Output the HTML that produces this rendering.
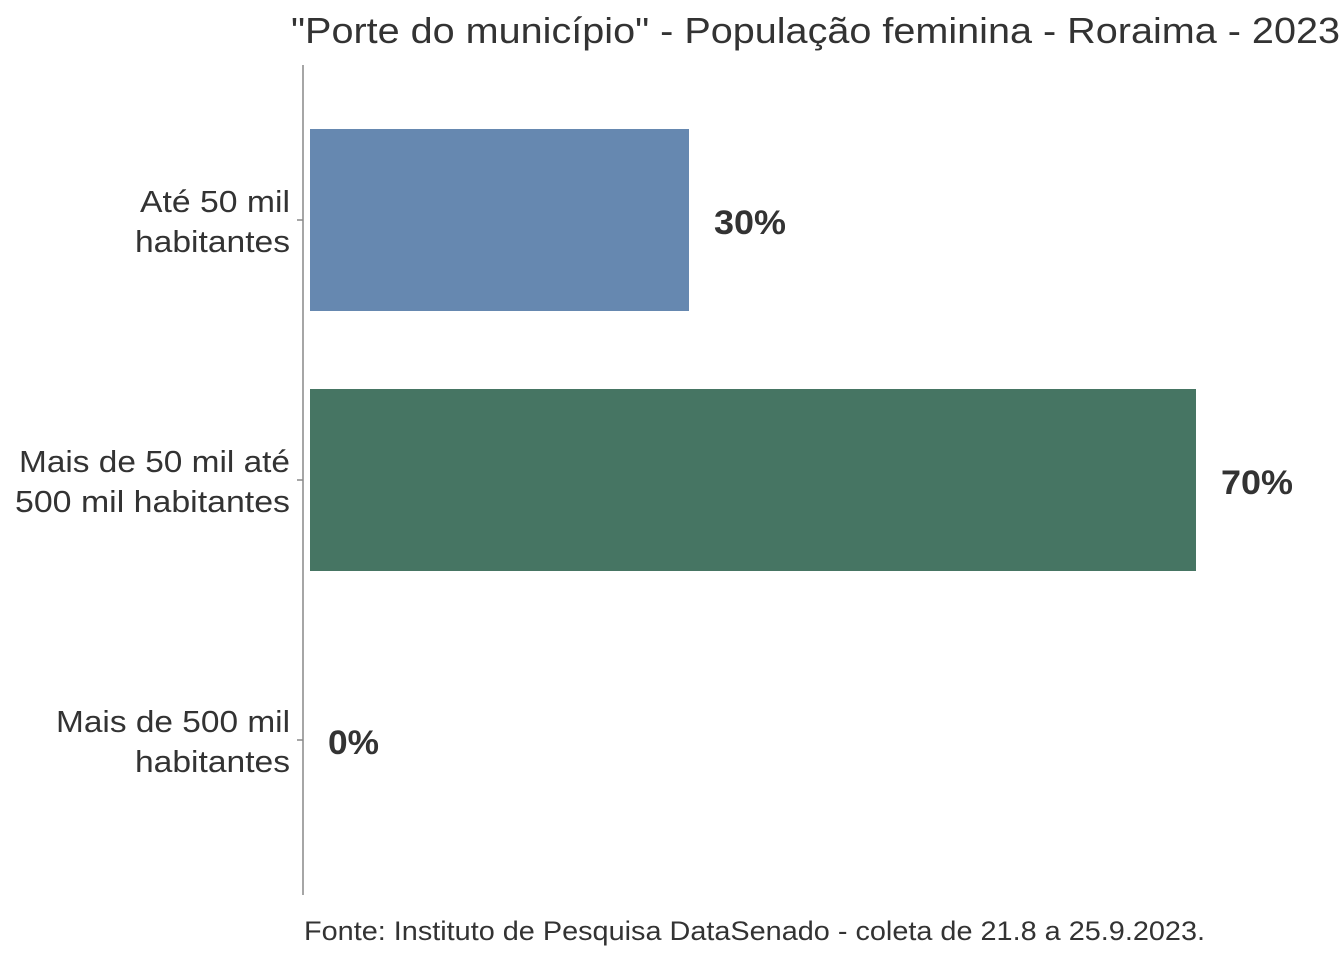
<!DOCTYPE html>
<html><head><meta charset="utf-8"><style>
html,body{margin:0;padding:0;background:#fff;}
svg{display:block;}
text{font-family:"Liberation Sans","DejaVu Sans",sans-serif;fill:#333;}
</style></head><body>
<svg width="1344" height="960" viewBox="0 0 1344 960" xmlns="http://www.w3.org/2000/svg">
<rect width="1344" height="960" fill="#fff"/>
<text x="291" y="43" font-size="36" textLength="1049" lengthAdjust="spacingAndGlyphs">"Porte do município" - População feminina - Roraima - 2023</text>
<line x1="303" y1="65" x2="303" y2="895" stroke="#888" stroke-width="1.5"/>
<line x1="297" y1="220" x2="303" y2="220" stroke="#888" stroke-width="1.5"/>
<line x1="297" y1="480" x2="303" y2="480" stroke="#888" stroke-width="1.5"/>
<line x1="297" y1="740" x2="303" y2="740" stroke="#888" stroke-width="1.5"/>
<rect x="310" y="129" width="379" height="182" fill="#6688b0"/>
<rect x="310" y="389" width="886" height="182" fill="#467563"/>
<g font-size="31" lengthAdjust="spacingAndGlyphs">
<text x="140" y="212" textLength="150" lengthAdjust="spacingAndGlyphs">Até 50 mil</text>
<text x="135" y="252" textLength="155" lengthAdjust="spacingAndGlyphs">habitantes</text>
<text x="19" y="472" textLength="271" lengthAdjust="spacingAndGlyphs">Mais de 50 mil até</text>
<text x="15" y="512" textLength="275" lengthAdjust="spacingAndGlyphs">500 mil habitantes</text>
<text x="56" y="732" textLength="234" lengthAdjust="spacingAndGlyphs">Mais de 500 mil</text>
<text x="135" y="772" textLength="155" lengthAdjust="spacingAndGlyphs">habitantes</text>
</g>
<g font-size="34" font-weight="bold">
<text x="714" y="234" textLength="72" lengthAdjust="spacingAndGlyphs">30%</text>
<text x="1221" y="494" textLength="72" lengthAdjust="spacingAndGlyphs">70%</text>
<text x="328" y="754" textLength="51" lengthAdjust="spacingAndGlyphs">0%</text>
</g>
<text x="304" y="940" font-size="27" textLength="901" lengthAdjust="spacingAndGlyphs">Fonte: Instituto de Pesquisa DataSenado - coleta de 21.8 a 25.9.2023.</text>
</svg>
</body></html>
